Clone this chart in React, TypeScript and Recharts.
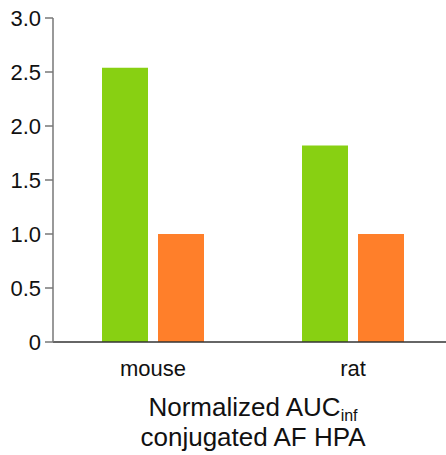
import React from "react";
import { BarChart, Bar, XAxis, YAxis } from "recharts";

const categories = ["mouse", "rat"];
const greenValues = [2.54, 1.82];
const orangeValues = [1.0, 1.0];
const yTicks = [0, 0.5, 1.0, 1.5, 2.0, 2.5, 3.0];
const titleLine1 = "Normalized AUC";
const titleSub = "inf";
const titleLine2 = "conjugated AF HPA";

const data = categories.map((c, i) => ({ name: c, green: greenValues[i], orange: orangeValues[i] }));

const FONT = "'Liberation Sans', Arial, sans-serif";

const TitleLabel = (props: any) => {
  const vb = props.viewBox || {};
  const cx = vb.x + vb.width / 2;
  const y = vb.y;
  return (
    <text x={cx} y={y + 74} textAnchor="middle" fontFamily={FONT} fontSize={26} fill="#111">
      <tspan>{titleLine1}</tspan>
      <tspan fontSize={16} dy={5}>{titleSub}</tspan>
      <tspan x={cx} dy={25}>{titleLine2}</tspan>
    </text>
  );
};

export default function App() {
  return (
    <div style={{ position: "absolute", left: 0, top: 0, width: 446, height: 455, overflow: "hidden", background: "#fff" }}>
      <BarChart
        width={453}
        height={455}
        data={data}
        margin={{ top: 18, right: 0, left: 0, bottom: 0 }}
        barGap={10}
        barSize={46}
      >
        <XAxis
          dataKey="name"
          height={113}
          tickLine={false}
          axisLine={{ stroke: "#333", strokeWidth: 1.5 }}
          tick={{ fontSize: 22, fill: "#111", fontFamily: FONT }}
          tickMargin={12}
          label={{ content: <TitleLabel /> } as any}
        />
        <YAxis
          width={53}
          domain={[0, 3]}
          ticks={yTicks}
          interval={0}
          tickSize={8}
          tickMargin={4}
          axisLine={{ stroke: "#777", strokeWidth: 1.5 }}
          tickLine={{ stroke: "#777", strokeWidth: 1.5 }}
          tick={{ fontSize: 22, fill: "#111", fontFamily: FONT }}
          tickFormatter={(v: number) => (v === 0 ? "0" : v.toFixed(1))}
        />
        <Bar dataKey="green" fill="#88D012" isAnimationActive={false} />
        <Bar dataKey="orange" fill="#FF7F2A" isAnimationActive={false} />
      </BarChart>
    </div>
  );
}
